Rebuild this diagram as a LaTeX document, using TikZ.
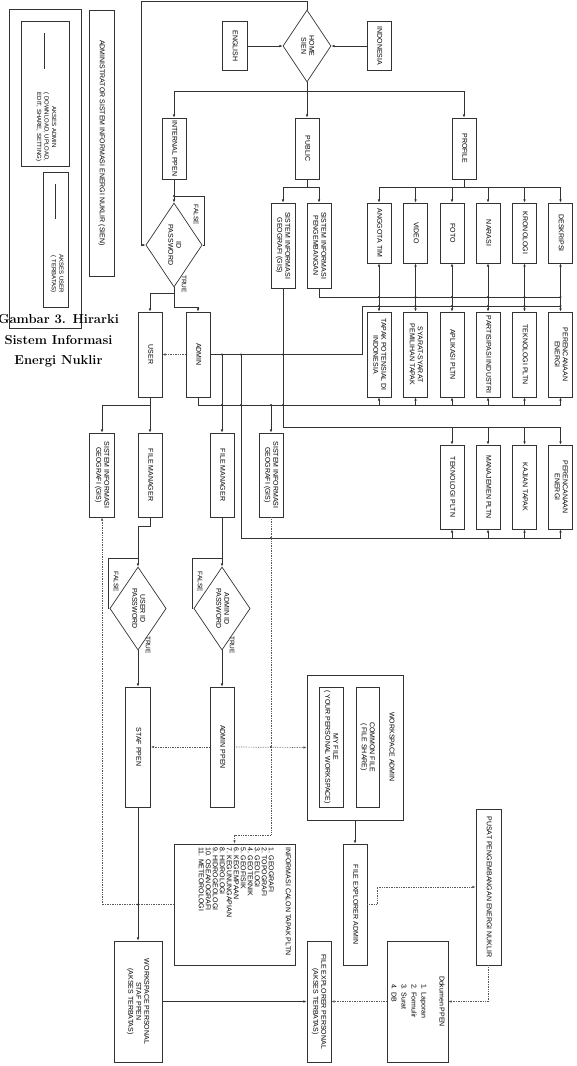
\documentclass[tikz,border=0pt]{standalone}
\usepackage{fontspec}
\usepackage{graphicx}
\newfontfamily\dg{Liberation Sans}
\usetikzlibrary{shapes.geometric,arrows.meta}
\newcommand{\rt}[1]{\rotatebox{-90}{\begin{tabular}{@{}c@{}}#1\end{tabular}}}
\tikzset{
  box/.style={draw=black!80, line width=0.7pt, inner sep=0pt, font=\dg\fontsize{7}{8}\selectfont},
  dmd/.style={box, diamond},
  ln/.style={draw=black!80, line width=0.7pt},
  arr/.style={ln, -{Latex[length=3.2pt,width=2.6pt]}},
  biarr/.style={ln, {Latex[length=3.2pt,width=2.6pt]}-{Latex[length=3.2pt,width=2.6pt]}},
  lite/.style={draw=black!65, line width=0.7pt, densely dotted, -{Latex[length=3.2pt,width=2.6pt]}},
  lbl/.style={font=\dg\fontsize{6.5}{7}\selectfont, inner sep=0pt},
  dot/.style={circle, fill=black!80, inner sep=0pt, minimum size=2.2pt},
}
\begin{document}
\begin{tikzpicture}[x=1pt,y=-1pt]
\useasboundingbox (0,0) rectangle (576,1066);

% ---------- legend ----------
\node[box, minimum width=72pt, minimum height=319pt] (legend) at (45,168.5) {};
\node[box, minimum width=48pt, minimum height=145pt] (lgA) at (45,93.5) {};
\coordinate (la1) at (44,33); \coordinate (la2) at (44,69);
\draw[ln] (la1) -- (la2);
\node[inner sep=0pt, font=\dg\fontsize{6}{7.5}\selectfont] (lgAt) at (46,127)
  {\rt{AKSES ADMIN\\( DOWNLOAD, UPLOAD,\\EDIT, SHARE, SETTING)}};
\node[box, minimum width=25pt, minimum height=135pt] (lgU) at (55.5,239.5) {};
\coordinate (lu1) at (55,184); \coordinate (lu2) at (55,219);
\draw[ln] (lu1) -- (lu2);
\node[inner sep=0pt, font=\dg\fontsize{6}{7.5}\selectfont] (lgUt) at (57,274)
  {\rt{AKSES USER\\( TERBATAS)}};
\node[box, minimum width=25pt, minimum height=266pt] (sien) at (101.5,143)
  {\rt{ADMINISTRATOR SISTEM INFORMASI ENERGI NUKLIR (SIEN)}};
\node[align=center, inner sep=0pt, font=\bfseries\fontsize{13}{20.5}\selectfont] (cap) at (58.5,341)
  {Gambar 3. Hirarki\\Sistem Informasi\\Energi Nuklir};

% ---------- top ----------
\node[dmd, minimum width=48pt, minimum height=72pt] (home) at (307,46) {\rt{HOME\\SIEN}};
\node[box, minimum width=25pt, minimum height=49pt] (english) at (234.5,46) {\rt{ENGLISH}};
\node[box, minimum width=24pt, minimum height=49pt] (indonesia) at (379,46) {\rt{INDONESIA}};
\draw[arr] (english.east) -- (home.west);
\draw[arr] (indonesia.west) -- (home.east);

\node[box, minimum width=24pt, minimum height=61pt] (internal) at (174,148.5) {\rt{INTERNAL PPEN}};
\node[box, minimum width=24pt, minimum height=61pt] (public) at (307,148.5) {\rt{PUBLIC}};
\node[box, minimum width=24pt, minimum height=61pt] (profile) at (464,148.5) {\rt{PROFILE}};
\coordinate (b1) at (307,91);
\draw[ln] (home.south) -- (b1);
\draw[ln] (internal.north |- b1) -- (profile.north |- b1);
\foreach \n in {internal,public,profile} \draw[arr] (\n.north |- b1) -- (\n.north);

% ID password
\node[dmd, minimum width=47pt, minimum height=84pt] (idpw) at (174,245) {\rt{ID\\PASSWORD}};
\coordinate (t1) at (141,1.5);
\draw[arr] (home.north) |- (t1) |- (idpw.west);
\draw[arr] (internal.south) -- (idpw.north);
\coordinate (f1) at (204,196);
\draw[ln] (idpw.east) -| (f1) -- (idpw.north |- f1);
\node[dot] (d0) at (idpw.north |- f1) {};
\node[lbl] (lf1) at (196,215) {\rotatebox{-90}{FALSE}};
\node[lbl] (lt1) at (184,284) {\rotatebox{-90}{TRUE}};

\node[box, minimum width=24pt, minimum height=85pt] (user) at (150,354.5) {\rt{USER}};
\node[box, minimum width=24pt, minimum height=85pt] (admin) at (198,354.5) {\rt{ADMIN}};
\coordinate (s1) at (174,293); \coordinate (s2) at (174,307);
\draw[arr] (idpw.south) -- (s1) -| (user.north);
\draw[arr] (s1) -- (s2) -| (admin.north);
\draw[lite] (admin.west) -- (user.east);

% public children
\node[box, minimum width=24pt, minimum height=85pt] (gis1) at (283,245.5) {\rt{SISTEM INFORMASI\\GEOGRAFI (GIS)}};
\node[box, minimum width=24pt, minimum height=85pt] (peng) at (319,245.5) {\rt{SISTEM INFORMASI\\PENGEMBANGAN}};
\coordinate (q2) at (307,187);
\draw[ln] (public.south) -- (q2);
\draw[ln] (gis1.north |- q2) -- (peng.north |- q2);
\draw[arr] (gis1.north |- q2) -- (gis1.north);
\draw[arr] (peng.north |- q2) -- (peng.north);

% profile children (row 1)
\node[box, minimum width=24pt, minimum height=60pt] (r11) at (379,233) {\rt{ANGGOTA TIM}};
\node[box, minimum width=24pt, minimum height=60pt] (r12) at (415.5,233) {\rt{VIDEO}};
\node[box, minimum width=24pt, minimum height=60pt] (r13) at (452,233) {\rt{FOTO}};
\node[box, minimum width=24pt, minimum height=60pt] (r14) at (488,233) {\rt{NARASI}};
\node[box, minimum width=24pt, minimum height=60pt] (r15) at (524.5,233) {\rt{KRONOLOGI}};
\node[box, minimum width=24pt, minimum height=60pt] (r16) at (560.5,233) {\rt{DESKRIPSI}};
\coordinate (q1) at (464,187);
\draw[ln] (profile.south) -- (q1);
\draw[ln] (r11.north |- q1) -- (r16.north |- q1);
\foreach \i in {1,...,6} \draw[arr] (r1\i.north |- q1) -- (r1\i.north);

% row 2
\node[box, minimum width=24pt, minimum height=85pt] (r21) at (379,354.5) {\rt{TAPAK POTENSIAL DI\\INDONESIA}};
\node[box, minimum width=24pt, minimum height=85pt] (r22) at (415.5,354.5) {\rt{SYARAT-SYARAT\\PEMILIHAN TAPAK}};
\node[box, minimum width=24pt, minimum height=85pt] (r23) at (452,354.5) {\rt{APLIKASI PLTN}};
\node[box, minimum width=24pt, minimum height=85pt] (r24) at (488,354.5) {\rt{PARTISIPASI INDUSTRI}};
\node[box, minimum width=24pt, minimum height=85pt] (r25) at (524.5,354.5) {\rt{TEKNOLOGI PLTN}};
\node[box, minimum width=24pt, minimum height=85pt] (r26) at (560.5,354.5) {\rt{PERENCANAAN\\ENERGI}};

\coordinate (p1) at (319,297);
\draw[ln] (peng.south) -- (p1) -- (r16.south |- p1);
\coordinate (a1) at (362,354.5); \coordinate (a2) at (362,306);
\draw[ln] (admin.east) -- (a1) -- (a2) -- (r26.north |- a2);
\foreach \i in {1,...,6} {
  \draw[biarr] (r1\i.south) -- (r2\i.north);
  \node[dot] (dp\i) at (r1\i.south |- p1) {};
  \node[dot] (da\i) at (r1\i.south |- a2) {};
}

% row 3
\node[box, minimum width=24pt, minimum height=84pt] (r31) at (452,487) {\rt{TEKNOLOGI PLTN}};
\node[box, minimum width=24pt, minimum height=84pt] (r32) at (488,487) {\rt{MANAJEMEN PLTN}};
\node[box, minimum width=24pt, minimum height=84pt] (r33) at (524.5,487) {\rt{KAJIAN TAPAK}};
\node[box, minimum width=24pt, minimum height=84pt] (r34) at (560.5,487) {\rt{PERENCANAAN\\ENERGI}};

\coordinate (g1) at (283,427);
\draw[ln] (gis1.south) -- (g1) -- (r34.north |- g1);
\foreach \i in {1,...,4} \draw[arr] (r3\i.north |- g1) -- (r3\i.north);
\node[dot] (dg1) at (283,354.5) {};
\node[dot] (dg2) at (283,405) {};

\coordinate (h1) at (198,405);
\draw[ln] (admin.south) -- (h1) -- (r26.south |- h1);
\foreach \i in {1,...,6} \draw[arr] (r2\i.south |- h1) -- (r2\i.south);

% admin second level
\node[box, minimum width=24pt, minimum height=84pt] (fm2) at (222,475) {\rt{FILE MANAGER}};
\node[box, minimum width=24pt, minimum height=84pt] (gis2) at (271,475) {\rt{SISTEM INFORMASI\\GEOGRAFI (GIS)}};
\coordinate (v1) at (222,354.5);
\draw[arr] (v1) -- (fm2.north);
\node[dot] (dv1) at (v1) {};
\node[dot] (dv1b) at (222,405) {};
\coordinate (v2) at (241,354.5); \coordinate (v3) at (241,538);
\draw[ln] (v2) -- (v3) -- (r34.south |- v3);
\foreach \i in {1,...,4} \draw[arr] (r3\i.south |- v3) -- (r3\i.south);
\node[dot] (dv2) at (v2) {};
\node[dot] (dv2b) at (241,405) {};
\coordinate (v4) at (271,405);
\draw[arr] (v4) -- (gis2.north);
\node[dot] (dv4) at (v4) {};
\node[dot] (dv4b) at (271,538) {};

% user second level
\node[box, minimum width=25pt, minimum height=84pt] (gis3) at (102,475) {\rt{SISTEM INFORMASI\\GEOGRAFI (GIS)}};
\node[box, minimum width=24pt, minimum height=84pt] (fm1) at (150,475) {\rt{FILE MANAGER}};
\coordinate (u1) at (150,405);
\draw[ln] (user.south) -- (u1);
\draw[ln] (gis3.north |- u1) -- (u1);
\draw[arr] (gis3.north |- u1) -- (gis3.north);
\draw[arr] (u1) -- (fm1.north);

% password diamonds
\node[dmd, minimum width=48pt, minimum height=83pt] (upw) at (138,608.5) {\rt{USER ID\\PASSWORD}};
\node[dmd, minimum width=49pt, minimum height=83pt] (apw) at (222,608.5) {\rt{ADMIN ID\\PASSWORD}};
\coordinate (k1) at (150,526);
\draw[arr] (fm1.south) -- (k1) -| (upw.north);
\draw[arr] (fm2.south) -- (apw.north);
\coordinate (f2) at (108,558);
\draw[ln] (upw.west) -| (f2) -- (upw.north |- f2);
\coordinate (f3) at (192,558);
\draw[ln] (apw.west) -| (f3) -- (apw.north |- f3);
\node[lbl] (lf2) at (116,582) {\rotatebox{-90}{FALSE}};
\node[lbl] (lt2) at (148,645) {\rotatebox{-90}{TRUE}};
\node[lbl] (lf3) at (200,582) {\rotatebox{-90}{FALSE}};
\node[lbl] (lt3) at (232,645) {\rotatebox{-90}{TRUE}};

% PPEN level
\node[box, minimum width=25pt, minimum height=120pt] (staf) at (138,747) {\rt{STAF PPEN}};
\node[box, minimum width=24pt, minimum height=120pt] (adpp) at (222,747) {\rt{ADMIN PPEN}};
\draw[arr] (upw.south) -- (staf.north);
\draw[arr] (apw.south) -- (adpp.north);
\draw[lite] (adpp.west) -- (staf.east);

\node[box, minimum width=96pt, minimum height=145pt] (wsa) at (355,747.5) {};
\node[box, minimum width=24pt, minimum height=120pt] (myfile) at (331,747) {\rt{MY FILE\\( YOUR PERSONAL WORKSPACE)}};
\node[box, minimum width=23pt, minimum height=120pt] (common) at (367.5,747) {\rt{COMMON FILE\\( FILE SHARE)}};
\node[lbl, font=\dg\fontsize{7}{8}\selectfont] (wsat) at (392,747) {\rotatebox{-90}{WORKSPACE ADMIN}};
\draw[lite] (adpp.east) -- (wsa.west);
\node[dot] (dw) at (271,747) {};

% GIS admin to info
\node[box, minimum width=121pt, minimum height=121pt] (info) at (234.5,904.5) {};
\node[inner sep=0pt, anchor=north east, font=\dg\fontsize{7}{7}\selectfont] (infot) at (291,847)
  {\rotatebox{-90}{\begin{tabular}{@{}l@{}}INFORMASI CALON TAPAK PLTN\\[10pt]
   1. GEOGRAFI\\2. TOPOGRAFI\\3. GEOLOGI\\4. GEOTEKNIK\\5. GEOFISIK\\6. KEGEMPAAN\\
   7. KEGUNUNGAPIAN\\8. HIDROLOGI\\9. HIDROGEOLOGI\\10. OSEANOGRAFI\\11. METEOROLOGI\end{tabular}}};
\coordinate (w1) at (271,835);
\draw[lite] (gis2.south) -- (w1) -| (info.north);
\draw[lite] (info.west) -| (gis3.south);

% file explorer admin / pusat / dokumen
\node[box, minimum width=24pt, minimum height=121pt] (fea) at (355,904.5) {\rt{FILE EXPLORER ADMIN}};
\draw[arr] (wsa.south) -- (fea.north);
\node[box, minimum width=25pt, minimum height=156pt] (pusat) at (488.5,887) {\rt{PUSAT PENGEMBANGAN ENERGI NUKLIR}};
\coordinate (k2) at (377,904.5);
\draw[lite] (fea.east) -- (k2) |- (pusat.west);
\node[box, minimum width=61pt, minimum height=121pt, font=\dg\fontsize{7}{10}\selectfont] (dok) at (417.5,1001.5)
  {\rotatebox{-90}{\begin{tabular}{@{}l@{}}Dokumen PPEN\\[8pt]\hspace{8pt}1. Laporan\\\hspace{8pt}2. Formulir\\\hspace{8pt}3. Surat\\\hspace{8pt}4. DB\end{tabular}}};
\draw[lite] (pusat.south) |- (dok.east);
\node[box, minimum width=24pt, minimum height=121pt] (fep) at (319,1001.5) {\rt{FILE EXPLORER PERSONAL\\(AKSES TERBATAS)}};
\draw[lite] (dok.west) -- (fep.east);
\node[box, minimum width=48pt, minimum height=121pt] (wsp) at (138,1001.5) {\rt{WORKSPACE PERSONAL\\STAF PPEN\\(AKSES TERBATAS)}};
\draw[arr] (wsp.east) -- (fep.west);
\draw[arr] (staf.south) -- (wsp.north);
\node[dot] (ds) at (138,904.5) {};
\end{tikzpicture}
\end{document}
